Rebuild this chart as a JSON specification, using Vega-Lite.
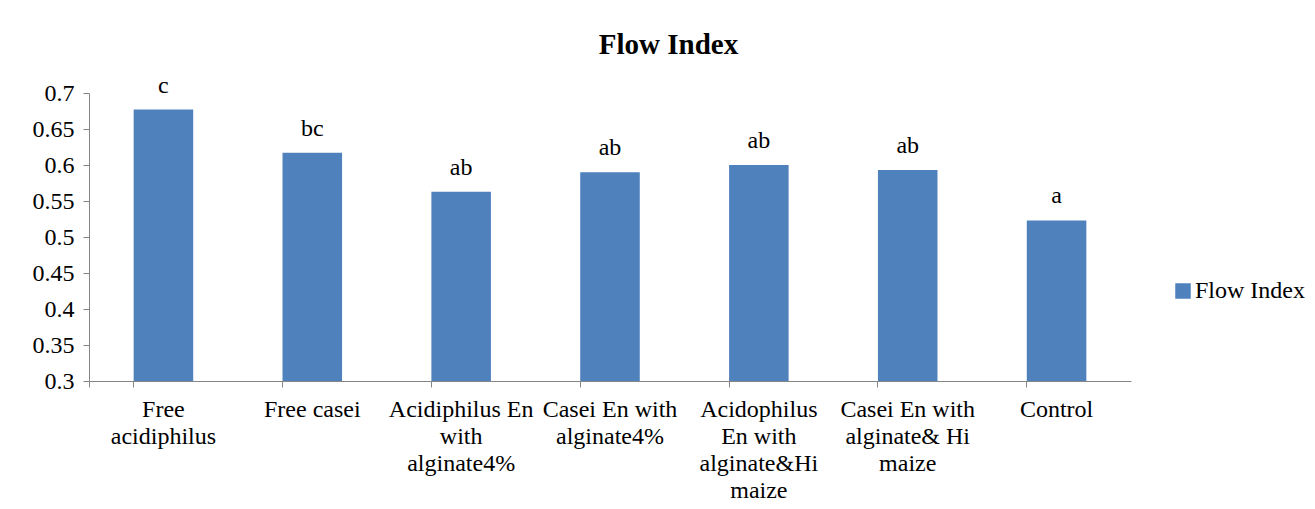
{
  "$schema": "https://vega.github.io/schema/vega-lite/v6.json",
  "autosize": {"type": "none"},
  "padding": {"left": 89, "top": 93, "right": 184, "bottom": 128},
  "width": 1042,
  "height": 288,
  "background": "white",
  "title": {
    "text": "Flow Index",
    "font": "Liberation Serif",
    "fontSize": 29,
    "fontWeight": "bold",
    "color": "black",
    "anchor": "middle",
    "frame": "bounds",
    "offset": 14
  },
  "data": {
    "values": [
      {"treatment": "Free acidiphilus", "flow": 0.677, "group": "c"},
      {"treatment": "Free casei", "flow": 0.617, "group": "bc"},
      {"treatment": "Acidiphilus En with alginate4%", "flow": 0.563, "group": "ab"},
      {"treatment": "Casei En with alginate4%", "flow": 0.590, "group": "ab"},
      {"treatment": "Acidophilus En with alginate&Hi maize", "flow": 0.600, "group": "ab"},
      {"treatment": "Casei En with alginate& Hi maize", "flow": 0.593, "group": "ab"},
      {"treatment": "Control", "flow": 0.523, "group": "a"}
    ]
  },
  "encoding": {
    "x": {
      "field": "treatment",
      "type": "nominal",
      "sort": null,
      "scale": {"paddingInner": 0.6, "paddingOuter": 0.3},
      "axis": {
        "title": null,
        "labelAngle": 0,
        "labelFont": "Liberation Serif",
        "labelFontSize": 24,
        "labelColor": "black",
        "labelLineHeight": 27,
        "labelPadding": 10,
        "labelLimit": 300,
        "labelOverlap": false,
        "domainColor": "#868686",
        "tickColor": "#868686",
        "tickSize": 6,
        "bandPosition": 0,
        "tickExtra": true,
        "labelExpr": "{'Free acidiphilus': ['Free', 'acidiphilus'], 'Free casei': ['Free casei'], 'Acidiphilus En with alginate4%': ['Acidiphilus En', 'with', 'alginate4%'], 'Casei En with alginate4%': ['Casei En with', 'alginate4%'], 'Acidophilus En with alginate&Hi maize': ['Acidophilus', 'En with', 'alginate&Hi', 'maize'], 'Casei En with alginate& Hi maize': ['Casei En with', 'alginate& Hi', 'maize'], 'Control': ['Control']}[datum.label]"
      }
    },
    "y": {
      "field": "flow",
      "type": "quantitative",
      "scale": {"domain": [0.3, 0.7], "zero": false, "nice": false},
      "axis": {
        "title": null,
        "values": [0.3, 0.35, 0.4, 0.45, 0.5, 0.55, 0.6, 0.65, 0.7],
        "format": ".2~f",
        "grid": false,
        "labelOverlap": false,
        "labelFont": "Liberation Serif",
        "labelFontSize": 24,
        "labelColor": "black",
        "labelPadding": 9,
        "domainColor": "#868686",
        "tickColor": "#868686",
        "tickSize": 6
      }
    }
  },
  "layer": [
    {
      "mark": {"type": "bar"},
      "encoding": {
        "y2": {"datum": 0.3},
        "color": {
          "datum": "Flow Index",
          "type": "nominal",
          "scale": {"range": ["#4F81BD"]},
          "legend": {
            "title": null,
            "orient": "none",
            "legendX": 1082,
            "legendY": 186,
            "padding": 0,
            "symbolType": "square",
            "symbolSize": 240,
            "symbolStrokeWidth": 0,
            "labelFont": "Liberation Serif",
            "labelFontSize": 24,
            "labelColor": "black",
            "labelOffset": 0
          }
        }
      }
    },
    {
      "mark": {
        "type": "text",
        "font": "Liberation Serif",
        "fontSize": 24,
        "color": "black",
        "baseline": "alphabetic",
        "dy": -17
      },
      "encoding": {
        "text": {"field": "group"}
      }
    }
  ],
  "config": {
    "font": "Liberation Serif",
    "view": {"stroke": null}
  }
}
